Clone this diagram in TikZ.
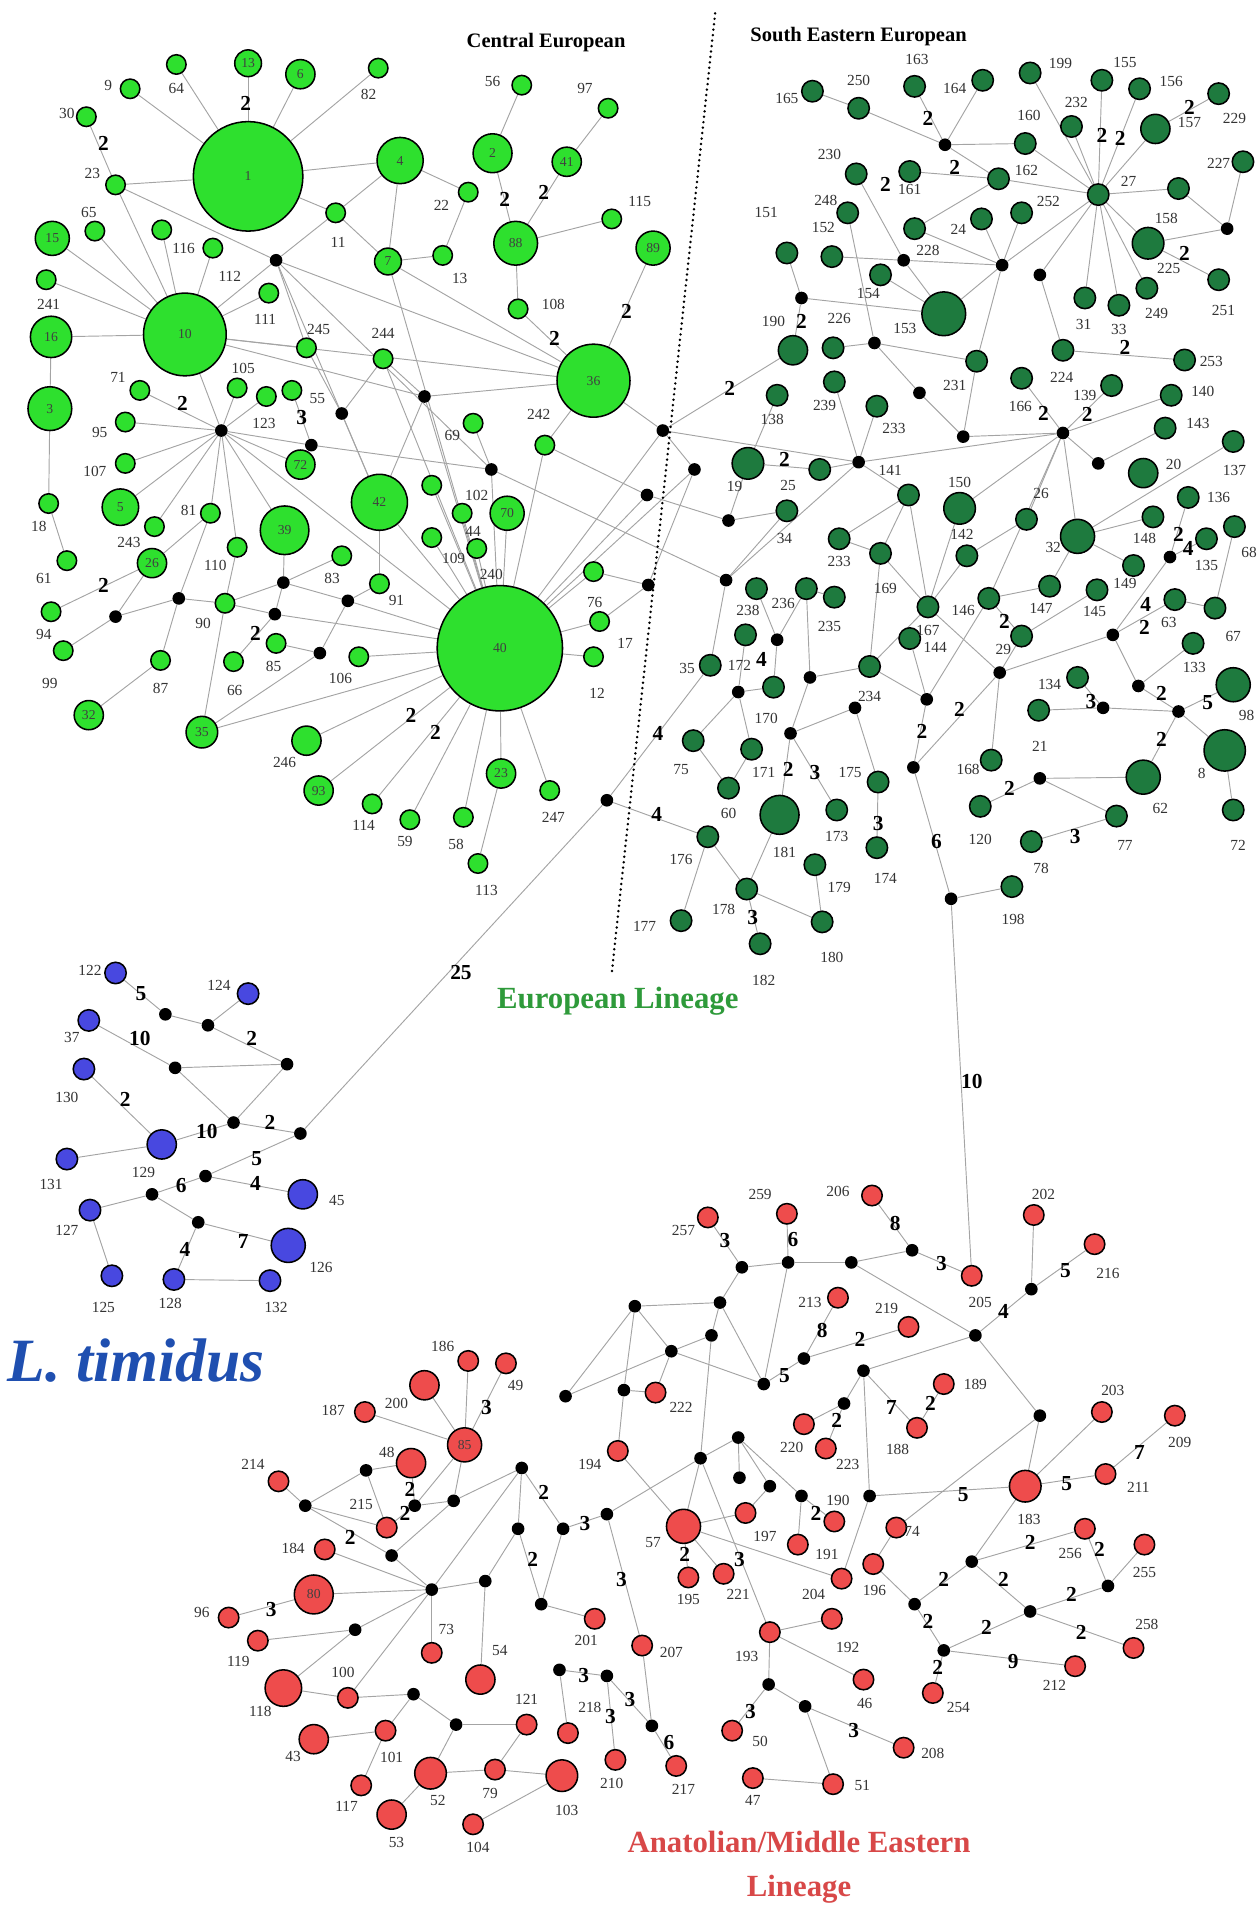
\documentclass[tikz,border=0pt]{standalone}
\usepackage{fontspec}
\setmainfont{Liberation Serif}
\usetikzlibrary{backgrounds}
\definecolor{ceGreen}{HTML}{2EE02E}
\definecolor{seGreen}{HTML}{1E7A3E}
\definecolor{anRed}{HTML}{EE4C4C}
\definecolor{tiBlue}{HTML}{4848E0}
\definecolor{linkGray}{HTML}{A4A4A4}
\definecolor{euText}{HTML}{2E9A3A}
\definecolor{anText}{HTML}{D84848}
\definecolor{tiText}{HTML}{1F4FB0}
\tikzset{
  hap/.style    ={circle,draw=black,line width=0.9pt,inner sep=0pt,
                  font=\fontsize{8}{9}\selectfont,text=black!75},
  ce/.style     ={hap,fill=ceGreen,minimum size=#1cm}, ce/.default=0.4,
  se/.style     ={hap,fill=seGreen,minimum size=#1cm}, se/.default=0.44,
  an/.style     ={hap,fill=anRed,minimum size=#1cm},   an/.default=0.42,
  ti/.style     ={hap,fill=tiBlue,minimum size=#1cm},  ti/.default=0.44,
  mv/.style     ={circle,fill=black,inner sep=0pt,minimum size=0.26cm},
  link/.style   ={linkGray,line width=0.55pt},
  hlab/.style   ={font=\fontsize{9}{10}\selectfont,text=black!80,inner sep=0pt},
  mut/.style    ={font=\fontsize{12.5}{14}\selectfont\bfseries,inner sep=0pt},
  region/.style ={font=\fontsize{12}{14}\selectfont\bfseries},
  lineage/.style={font=\fontsize{18}{25.6}\selectfont\bfseries,align=center},
  divider/.style={black,line width=1.6pt,line cap=round,dash pattern=on 0pt off 3.2pt},
}

\begin{document}
\begin{tikzpicture}[x=0.025cm,y=-0.025cm]
\useasboundingbox (0,0) rectangle (1036,1568);

%% central european
\foreach \n/\x/\y in {64/145/53, 82/311/56, 9/107/73, 30/71/96, 23/95/152, 11/276/175,
  116/175/204, x1/133/189, 65/78/190, 241/38/230, 111/221/241, 245/252/286, 244/315/295,
  71/115/321, 105/195/319, 123/219/326, 55/240/321, 95/103/347, 107/103/381, 18/40/414,
  81/173/422, 243/127/433, 110/195/450, 61/55/461, 90/185/496, 83/281/457, 91/312/480,
  94/42/503, 99/52/535, 87/132/543, 85c/227/529, 66/192/544, 106/295/540, 114/306/661,
  59/337/674, 58/381/672, 113/393/710, 247/452/650, 12/488/540, 17/493/511, 76/488/470,
  102/355/399, 44/380/422, 109/355/442, 240/392/451, 69/389/348, 242/448/366, 56/429/70,
  97/500/89, 22/385/158, 13b/364/210, 115/503/180, 108/426/254}
  \node[ce] (h\n) at (\x,\y) {};
\foreach \n/\x/\y/\s/\t in {1/204/145/2.25/1, 13/204/52/0.55/13, 6/247/61/0.6/6,
  4/329/132/0.95/4, 7/319/215/0.55/7, 15/43/196/0.7/15, 16/42/277/0.85/16,
  10/152/275/1.7/10, 3/41/336/0.9/3, 72/247/382/0.6/72, 42/312/413/1.15/42,
  5/99/417/0.75/5, 39/234/436/1.0/39, 26/125/463/0.6/26, 32/73/588/0.6/32,
  35/166/602/0.65/35, 246/252/609/0.6/{}, 93/262/650/0.6/93, 23b/412/636/0.6/23,
  40/411/533/2.575/40, 70/417/422/0.7/70, 36/488/313/1.5/36, 88/424/200/0.9/88,
  2/405/126/0.8/2, 41/466/133/0.6/41, 89/537/204/0.7/89}
  \node[ce=\s] (h\n) at (\x,\y) {\t};

%% south eastern european
\foreach \n/\x/\y in {165/668/75, 250/706/89, 163/752/71, 164/808/66, 160/843/118,
  199/847/60, 232/881/104, 155/906/66, 156/937/73, 229/1002/77, 227/1022/133,
  230/704/143, 161/748/141, 162/821/147, 27/903/160, 158/969/155, 251/1002/230,
  248/697/175, 152/684/211, 151/647/208, 226/685/286, 154/724/226, 228/752/188,
  24/807/180, 252/840/175, 31/892/245, 33/920/251, 249/943/237, 224/874/288,
  253/974/296, 231/803/297, 166/840/311, 139/914/317, 233/721/334, 140/963/325,
  143/958/352, 137/1014/363, 138/639/325, 239/686/314, 25/674/386, 34/647/420,
  X/747/407, 26s/844/427, 148/948/425, 136/977/409, 135/992/443, 68/1015/433,
  149/932/465, 63/966/493, 67/999/500, 145/902/485, 147/863/482, 146/813/492,
  29/840/523, 167/763/499, 142/795/457, 169/724/455, 144/748/525, 234/715/548,
  134/886/557, 21/854/584, 133/981/529, 168/815/625, 120/806/663, 77/918/671,
  78/848/692, 72s/1014/666, 175/722/643, 174/721/697, 173/688/666, 198/832/729,
  238/622/484, 236/663/484, 235/686/491, 233b/690/443, 172/613/522, 170/636/565,
  35s/584/547, 75/570/609, 171/618/616, 60/599/648, 176/582/688, 178/614/731,
  182/625/776, 177/560/757, 179/670/711, 180/676/758}
  \node[se] (h\n) at (\x,\y) {};
\foreach \n/\x/\y/\s in {157/950/106/0.6, 225/944/200/0.65, 190/652/288/0.6,
  153/776/258/0.9, 20/940/389/0.6, 19/615/381/0.65, 150/789/418/0.65, 32s/886/441/0.7,
  98/1014/563/0.7, 8/1007/617/0.85, 62/940/639/0.7, 181/641/670/0.8}
  \node[se=\s] (h\n) at (\x,\y) {};

%% anatolian / middle eastern
\foreach \n/\x/\y in {257/582/1001, 259/647/998, 206/717/983, 202/850/999, 216/900/1023,
  205/799/1049, 213/689/1067, 219/747/1091, 222/539/1145, 189/776/1138, 188/754/1174,
  203/906/1161, 209/966/1164, 211/909/1212, 220/661/1171, 223/679/1191, 194/508/1193,
  190r/686/1251, 197/613/1244, 195/566/1297, 221/595/1294, 191/656/1270, 204/692/1298,
  74/737/1256, 196/718/1286, 256/892/1257, 255/941/1270, 258/932/1355, 212/884/1370,
  254/767/1392, 192/684/1331, 193/633/1342, 46/710/1381, 50/602/1423, 208/743/1437,
  47/619/1462, 51/685/1467, 207/528/1353, 201/489/1331, 218/467/1425, 210/506/1447,
  217/556/1452, 121/433/1418, 79/407/1455, 104/389/1500, 73/355/1359, 186/385/1119,
  49/416/1121, 187/300/1161, 214/229/1218, 215/318/1256, 184/267/1274, 96/188/1330,
  119/212/1349, 100/286/1396, 101/317/1423, 117/297/1468}
  \node[an] (h\n) at (\x,\y) {};
\foreach \n/\x/\y/\s/\t in {183/843/1222/0.65/{}, 57/562/1255/0.7/{}, 52/354/1458/0.65/{},
  103/462/1460/0.65/{}, 54/395/1381/0.6/{}, 85/382/1188/0.7/85, 200/349/1139/0.6/{},
  48/338/1203/0.6/{}, 80/258/1311/0.8/80, 118/233/1388/0.75/{}, 43/258/1430/0.6/{},
  53/322/1492/0.6/{}}
  \node[an=\s] (h\n) at (\x,\y) {\t};

%% L. timidus
\foreach \n/\x/\y in {122/95/800, 124/204/817, 37/73/839, 130/69/879, 131/55/953,
  127/74/995, 125/92/1049, 128/143/1052, 132/222/1053}
  \node[ti] (h\n) at (\x,\y) {};
\foreach \n/\x/\y/\s in {129/133/941/0.6, 45/249/982/0.6, 126/237/1024/0.7}
  \node[ti=\s] (h\n) at (\x,\y) {};

%% median vectors
\foreach \n/\x/\y in {m1/227/214, m2/182/354, m3/281/340, m4/256/366, m5/147/492,
  m6/233/479, m7/226/505, m8/286/494, m9/95/507, m10/263/537, m11/349/326, m12/404/386,
  mJ/545/354, m13/571/386, m14/532/407, m15/599/428, m16/597/477, m17/533/481,
  m18/777/119, m19/1009/188, m20/659/245, m21/743/214, m22/824/218, m23/855/226,
  m24/719/282, m25/756/323, mK/874/356, m26/792/359, m27/903/381, m28/706/380,
  m29/962/458, m30/915/522, m31/822/553, m32/762/575, m33/703/582, m34/751/631,
  m35/907/582, m36/936/564, m37/969/585, m38/855/640, m39/782/739, m40/639/526,
  m41/666/557, m42/607/569, m43/650/603, m44/499/658,
  m50/610/1042, m51/648/1038, m52/700/1038, m53/750/1028, m54/848/1060, m55/802/1098,
  m56/522/1074, m57/592/1071, m58/585/1098, m59/552/1111, m60/661/1117, m61/628/1138,
  m62/465/1148, m63/513/1143, m64/710/1127, m65/694/1154, m66/855/1164, m67/576/1199,
  m68/607/1182, m69/608/1215, m70/633/1222, m71/659/1230, m72/715/1230, m73/799/1284,
  m74/911/1304, m75/752/1319, m76/847/1325, m77/776/1357, m78/632/1385, m79/662/1403,
  m80/460/1373, m81/499/1378, m82/536/1419, m83/375/1418, m84/355/1307, m85/399/1300,
  m86/445/1319, m87/429/1207, m88/426/1257, m89/463/1257, m90/499/1245, m91/373/1234,
  m92/251/1238, m93/301/1209, m94/341/1238, m95/322/1279, m96/292/1340, m97/340/1393,
  b1/136/834, b2/171/843, b3/236/875, b4/144/878, b5/192/923, b6/247/932, b7/169/967,
  b8/125/982, b9/163/1005}
  \node[mv] (\n) at (\x,\y) {};

\begin{scope}[on background layer]
% central european links
\foreach \a/\b in {h1/h64, h1/h13, h1/h6, h1/h82, h1/h9, h1/h23, h1/h4, h1/h11,
  h30/h23, h23/h10, h23/m1, h11/h4, h11/h7, h11/m1, h4/h7, h4/h22, h22/h13b, h7/h13b,
  h7/h36, h7/h40, h10/h15, h10/h65, h10/h241, h10/h16, h10/hx1, h10/h116, h10/m1,
  h10/h111, h10/h245, h10/m2, h10/h36, h10/m11, m1/h245, m1/h36, m1/m12, m1/h42,
  h16/h3, h3/h18, h18/h61, h245/m3, h244/m3, h244/h40, h244/m11,
  m2/h71, m2/h95, m2/h107, m2/h5, m2/h81, m2/h243, m2/h110, m2/h39, m2/h72, m2/h105,
  m2/h123, m2/m4, m2/h40, h55/m4, m4/h72, m4/m12, m3/h42, h42/h91, h42/m11, h42/h40,
  h81/h26, h81/m5, h94/h26, m9/h26, m9/h99, m9/m5, m5/h90, m5/h87, h87/h32,
  h90/h110, h90/h35, h90/m6, h90/m7, m6/h39, m6/h83, m6/m8, m6/m7, m7/h66, m7/h40,
  m8/h91, m8/m10, m8/h40, m10/h85c, m10/h35, h106/h40, h35/h40,
  h246/h40, h93/h40, h114/h40, h59/h40, h58/h40, h23b/h40, h247/h40, h113/h23b,
  h70/h40, h102/h40, h44/h40, h109/h40, h240/h40, h76/h40, h17/h40, h12/h40,
  m11/h36, m11/h40, h69/m12, m12/h40, h242/h40, h242/h36,
  h2/h56, h2/h88, h41/h97, h41/h88, h88/h115, h88/h108, h108/h36, h89/h36,
  h36/mJ, mJ/h40, mJ/m13, mJ/h190, mJ/m28, m13/h40, h76/m17, h17/m17, m17/m13,
  h40/m14, m14/m15, m14/h242, m15/h34, m15/h19, m16/h34, m16/h35s, m12/m16, m16/m28}
  \draw[link] (\a) -- (\b);
% south eastern links
\foreach \a/\b in {h165/h250, h250/m18, h163/m18, h164/m18, m18/h160, m18/h162,
  h199/h27, h232/h27, h155/h27, h156/h27, h157/h27, h157/h229, h160/h27, h162/h27,
  h158/h27, h31/h27, h33/h27, h249/h27, h225/h27, m22/h27, m23/h27,
  h158/m19, h227/m19, h225/m19, h225/h251, h230/m21, h161/h162, h162/h228, h228/m22,
  h24/m22, h252/m22, m22/h153, m22/h231, h154/h153, m21/m22, h152/m21, m21/h153,
  h151/m20, m20/h153, m20/h190, h248/m24, m24/h226, m24/h231, m24/m25, m25/m26,
  h231/m26, m26/mK, m28/mK, m23/h224, h224/h253, h166/mK, h139/mK, h140/mK, mK/m27,
  m27/h143, mK/h26s, mK/h146, mK/h150, mK/h32s, h233/m28, h25/m28, h19/h25, h138/h19,
  h239/m28, m28/hX, hX/h169, hX/h167, h233b/hX, h233b/h169, h150/h167, h142/h167,
  h142/h26s, h169/h167, h169/h234, h167/h234, h167/m31, h144/m32, h234/m32, h146/m32,
  h146/h147, h146/h29, h145/h29, h29/m31, m31/m30, m31/m34, m31/h168, m32/m34,
  m34/m39, m39/h198, m39/h205, h137/h32s, h32s/h148, h32s/h149, h32s/h147,
  h136/m29, m29/h135, m29/m30, h68/h67, h63/h67, h63/m30, m30/m36, h133/m36, m36/m37,
  m37/h98, m37/h8, m37/m35, m35/h134, m35/h21, m37/h62, h8/h72s, m38/h120, m38/h62,
  m38/h77, h77/h78, m33/h175, h175/h174, m43/m33, m43/h181, m43/h173, h236/m41,
  m41/m43, m41/h234, h238/m40, h236/m40, m40/h170, h172/m42, m42/h170, m42/h75,
  m42/h171, h75/h60, h60/h171, h35s/m44, m44/h176, h176/h177, h176/h178, h178/h181,
  h178/h182, h178/h180, h180/h179, h235/h236, b6/m44}
  \draw[link] (\a) -- (\b);
% anatolian links
\foreach \a/\b in {h257/m50, m50/m51, h259/m51, m51/m52, m52/m53, h206/m53, m53/h205,
  m50/m57, m57/m56, m57/m58, m57/m61, m51/m61, m52/m55, m54/h202, m54/h216, m54/m55,
  m55/m64, m55/m66, m66/h183, h183/h203, h183/h211, h211/h209, h183/m72, h183/m73,
  m73/h256, m73/m75, m73/m76, h256/m74, h255/m74, m74/m76, m76/h258, m76/m77,
  m77/h212, m77/h254, m75/m77, m75/h196, h196/h74, h74/m66, m64/m72, m72/h204,
  m64/h188, h188/h189, m60/h219, m64/m65, m65/h223, h220/m65, m60/h213, m60/m61,
  m58/m59, m58/m67, m56/m62, m56/m63, m56/m59, m59/m61, m59/h222, m62/m59, m63/h222,
  m63/h194, h194/h57, m67/m90, m67/h57, m67/m68, m68/m69, m68/m70, m68/m71,
  m71/h190r, m71/h191, m70/h197, h57/h195, h57/h221, h57/h197, h57/h204, m67/h193,
  h193/h192, h193/m78, h193/h46, m78/h50, m78/m79, m79/h208, m79/h51, h51/h47,
  m90/m89, m90/h207, h207/m82, m89/m87, m89/m86, m87/m91, m87/m88, m87/m84,
  m88/m85, m88/m86, m86/h201, m84/m85, m84/h73, m85/h54, m91/h85, m91/m94, m91/m95,
  h85/h186, h85/h49, h85/h200, h187/h85, h214/m92, m92/m93, m92/h215, m92/m95,
  m93/h48, m93/h215, h48/m94, m94/h215, m94/h85, m95/m84, h184/m84, h80/m84, h80/h96,
  h119/m96, m96/h118, m96/m84, h118/h100, h100/m84, h100/m97, m97/m83, m97/h101,
  h43/h101, h101/h117, m83/h121, m83/h52, h52/h79, h79/h121, h79/h103, h103/h104,
  h53/h52, m80/m81, m80/h218, m81/h210, m81/m82, m82/h217}
  \draw[link] (\a) -- (\b);
% L. timidus links
\foreach \a/\b in {h122/b1, b1/b2, b2/h124, b2/b3, h37/b4, b4/b3, b4/b5, b3/b5,
  h130/h129, h129/b5, b5/b6, h131/h129, b6/b7, b7/h45, b7/b8, b8/h127, b8/b9,
  h127/h125, b9/h126, b9/h128, h128/h132}
  \draw[link] (\a) -- (\b);
\end{scope}

%% haplotype numbers
\foreach \x/\y/\t in {145/73/64, 303/78/82, 89/70/9, 55/93/30, 76/143/23, 278/199/11,
  151/204/116, 189/227/112, 73/175/65, 40/250/241, 218/263/111, 262/271/245,
  315/274/244, 97/310/71, 200/303/105, 217/348/123, 261/328/55, 82/356/95, 78/388/107,
  32/433/18, 155/420/81, 106/446/243, 177/465/110, 36/476/61, 167/513/90, 273/476/83,
  326/494/91, 36/522/94, 41/562/99, 132/566/87, 225/548/85, 193/568/66, 280/558/106,
  234/627/246, 299/679/114, 333/692/59, 375/694/58, 400/732/113, 455/672/247,
  491/570/12, 514/529/17, 489/495/76, 392/407/102, 389/437/44, 373/459/109,
  404/472/240, 372/358/69, 443/341/242, 405/67/56, 481/73/97, 363/169/22, 378/229/13,
  526/166/115, 455/250/108,
  647/81/165, 706/66/250, 754/49/163, 785/73/164, 846/95/160, 872/52/199, 885/84/232,
  925/51/155, 963/67/156, 978/101/157, 1015/97/229, 1002/134/227, 682/127/230,
  748/156/161, 844/140/162, 928/149/27, 959/180/158, 961/221/225, 1006/255/251,
  679/165/248, 677/187/152, 630/175/151, 636/264/190, 690/262/226, 714/241/154,
  763/206/228, 788/189/24, 862/166/252, 744/270/153, 891/267/31, 920/271/33,
  951/258/249, 873/310/224, 996/297/253, 785/317/231, 839/334/166, 892/325/139,
  735/352/233, 989/322/140, 985/348/143, 1015/387/137, 965/382/20, 732/387/141,
  635/345/138, 678/333/239, 604/400/19, 648/399/25, 645/443/34, 789/397/150,
  856/406/26, 866/450/32, 941/443/148, 1002/409/136, 992/465/135, 1027/454/68,
  925/480/149, 961/512/63, 1014/523/67, 900/503/145, 856/500/147, 792/502/146,
  825/534/29, 763/518/167, 791/439/142, 728/484/169, 769/532/144, 715/573/234,
  863/563/134, 855/614/21, 982/549/133, 1025/588/98, 988/636/8, 954/665/62,
  796/633/168, 806/690/120, 925/695/77, 856/714/78, 1018/695/72, 699/635/175,
  728/722/174, 688/688/173, 833/756/198, 615/502/238, 644/496/236, 682/515/235,
  690/462/233, 608/547/172, 630/591/170, 565/550/35, 560/633/75, 628/635/171,
  599/669/60, 645/701/181, 560/707/176, 595/748/178, 628/806/182, 530/762/177,
  690/730/179, 684/787/180,
  562/1012/257, 625/982/259, 689/980/206, 858/982/202, 911/1047/216, 806/1071/205,
  666/1071/213, 729/1076/219, 560/1157/222, 802/1138/189, 738/1192/188, 915/1143/203,
  970/1186/209, 936/1223/211, 846/1249/183, 651/1190/220, 697/1204/223, 485/1204/194,
  537/1268/57, 629/1263/197, 566/1315/195, 607/1311/221, 680/1278/191, 689/1234/190,
  669/1311/204, 750/1259/74, 719/1308/196, 880/1277/256, 941/1293/255, 943/1336/258,
  867/1386/212, 788/1404/254, 697/1355/192, 614/1362/193, 711/1401/46, 625/1432/50,
  767/1442/208, 619/1480/47, 709/1468/51, 552/1359/207, 482/1349/201, 485/1404/218,
  503/1466/210, 562/1471/217, 433/1397/121, 360/1480/52, 403/1475/79, 466/1489/103,
  393/1519/104, 411/1357/54, 367/1340/73, 364/1107/186, 326/1154/200, 424/1139/49,
  274/1160/187, 318/1194/48, 208/1204/214, 297/1237/215, 241/1273/184, 166/1326/96,
  196/1366/119, 214/1407/118, 282/1375/100, 241/1444/43, 322/1445/101, 285/1485/117,
  326/1515/53,
  74/798/122, 180/810/124, 59/853/37, 55/902/130, 42/974/131, 118/964/129, 277/987/45,
  55/1012/127, 264/1042/126, 85/1075/125, 140/1072/128, 227/1075/132}
  \node[hlab] (l\x-\y) at (\x,\y) {\t};

%% mutation steps
\foreach \x/\y/\t in {85/118/2, 202/85/2, 150/332/2, 248/343/3, 85/481/2, 210/521/2,
  338/588/2, 358/602/2, 415/164/2, 447/158/2, 456/278/2, 515/256/2, 600/319/2,
  659/264/2, 645/378/2, 763/97/2, 785/138/2, 728/152/2, 906/111/2, 921/114/2,
  978/88/2, 974/208/2, 925/286/2, 858/340/2, 894/341/2, 969/439/2, 977/451/4,
  942/497/4, 941/516/2, 826/511/2, 758/601/2, 789/583/2, 897/577/3, 955/570/2,
  993/578/5, 955/608/2, 830/648/2, 884/688/3, 722/677/3, 770/692/6, 626/542/4,
  541/603/4, 648/633/2, 670/635/3, 540/670/4, 619/754/3, 799/889/10, 379/800/25,
  596/1020/3, 652/1019/6, 736/1006/8, 774/1039/3, 876/1045/5, 825/1078/4, 676/1094/8,
  645/1131/5, 707/1101/2, 733/1157/7, 765/1154/2, 688/1168/2, 400/1157/3, 937/1194/7,
  877/1220/5, 792/1229/5, 847/1268/2, 904/1274/2, 776/1299/2, 825/1299/2, 881/1311/2,
  763/1333/2, 811/1338/2, 889/1342/2, 833/1366/9, 771/1371/2, 702/1423/3, 671/1244/2,
  563/1278/2, 608/1282/3, 447/1227/2, 481/1253/3, 438/1282/2, 511/1299/3, 480/1378/3,
  502/1411/3, 518/1397/3, 550/1433/6, 617/1407/3, 337/1225/2, 333/1244/2, 288/1264/2,
  223/1323/3,
  116/817/5, 115/854/10, 207/854/2, 103/904/2, 170/930/10, 222/923/2, 211/953/5,
  210/973/4, 149/975/6, 200/1021/7, 152/1027/4}
  \node[mut] (s\x-\y) at (\x,\y) {\t};

%% region titles
\coordinate (divT) at (588,11);
\coordinate (divB) at (503,800);
\draw[divider] (divT) -- (divB);
\node[region] (tCE) at (449,35) {Central European};
\node[region] (tSE) at (706,30) {South Eastern European};
\node[lineage,text=euText] (tEU) at (508,823) {European Lineage};
\node[lineage,text=anText] (tAN) at (657,1535) {Anatolian/Middle Eastern\\Lineage};
\node[font=\fontsize{36}{40}\selectfont\bfseries\itshape,text=tiText] (tLT) at (112,1119) {L. timidus};
\end{tikzpicture}
\end{document}
